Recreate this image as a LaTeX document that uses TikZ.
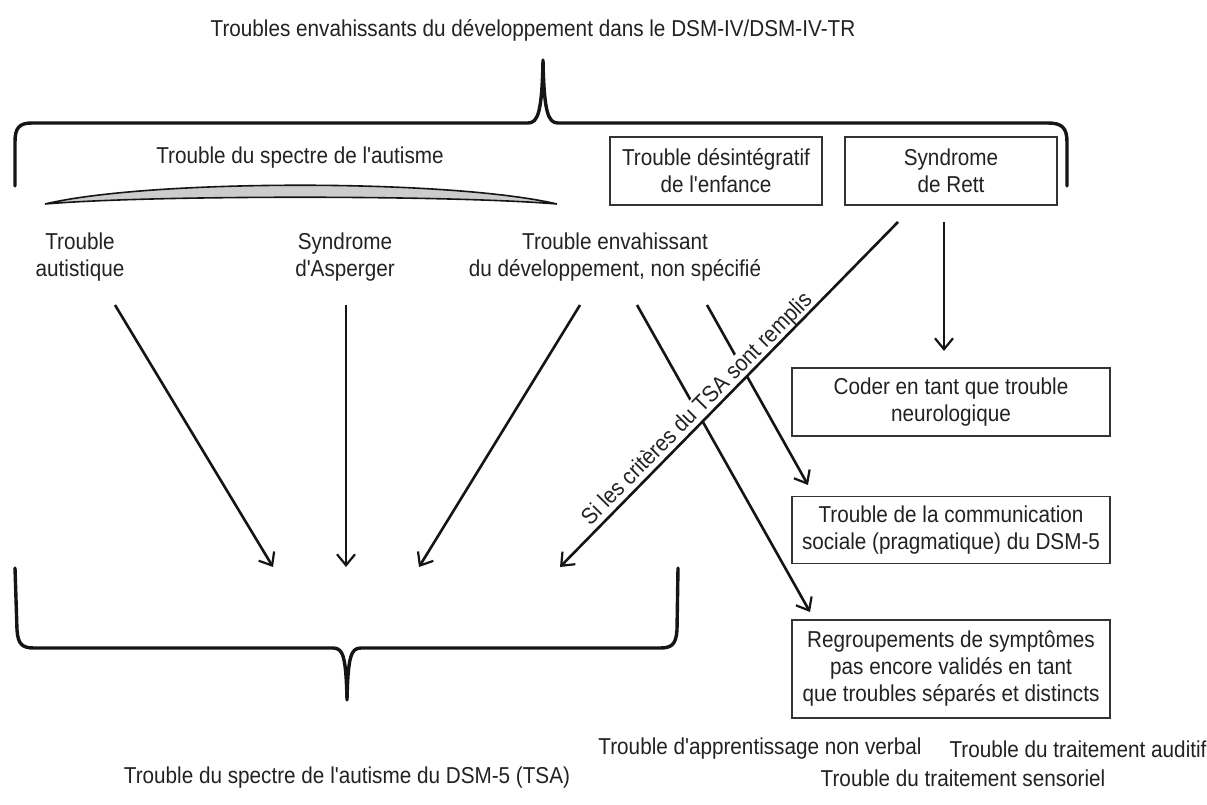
\documentclass[tikz,border=0pt]{standalone}
\usepackage{fontspec}
\setmainfont{Liberation Sans}[FakeStretch=0.9, Ligatures=TeXOff]
\usetikzlibrary{arrows.meta}
\definecolor{ink}{HTML}{151515}
\definecolor{txt}{HTML}{222222}
\definecolor{boxc}{HTML}{333333}
\begin{document}
\begin{tikzpicture}[x=1pt,y=-1pt,
  every node/.style={font=\fontsize{23}{27}\selectfont, text=txt, align=center},
  box/.style={draw=boxc, line width=1.6pt, inner sep=0pt},
  arr/.style={line width=2.6pt, draw=ink, -{Straight Barb[length=11pt,width=18pt,line width=2.2pt]}},
  brace/.style={line width=3.4pt, draw=ink, line cap=round, line join=round}]
\useasboundingbox (0,0) rectangle (1207,805);
\fill[white] (0,0) rectangle (1207,805);

% titles
\node (title) at (533,30) {Troubles envahissants du développement dans le DSM-IV/DSM-IV-TR};
\node (spectre) at (300,158) {Trouble du spectre de l'autisme};

% top brace
\draw[brace] (15,186) -- (15,142) .. controls (15,128) and (19,123) .. (32,123)
  -- (528,123) .. controls (538,123) and (542,112) .. (543,60)
  .. controls (544,112) and (548,123) .. (558,123)
  -- (1048,123) .. controls (1062,123) and (1067,128) .. (1067,142) -- (1067,186);

% lens
\draw[line width=1.6pt, draw=ink, fill=gray!40] (45,204) .. controls (150,179) and (450,179) .. (557,204)
  .. controls (450,195) and (150,195) .. (45,204) -- cycle;

% boxes top
\node[box, minimum width=212pt, minimum height=68pt] (desint) at (716,171) {Trouble désintégratif\\de l'enfance};
\node[box, minimum width=212pt, minimum height=68pt] (rett) at (951,171) {Syndrome\\de Rett};

% labels
\node (autist) at (80,257) {Trouble\\autistique};
\node (asperger) at (345,257) {Syndrome\\d'Asperger};
\node (tedns) at (615,257) {Trouble envahissant\\du développement, non spécifié};

% right boxes
\node[box, minimum width=318pt, minimum height=68pt] (coder) at (951,402) {Coder en tant que trouble\\neurologique};
\node[box, minimum width=318pt, minimum height=67pt] (comm) at (951,530) {Trouble de la communication\\sociale (pragmatique) du DSM-5};
\node[box, minimum width=318pt, minimum height=98pt] (regroup) at (951,669) {Regroupements de symptômes\\pas encore validés en tant\\que troubles séparés et distincts};

% bottom texts
\node (tsa) at (347,778) {Trouble du spectre de l'autisme du DSM-5 (TSA)};
\node (apprent) at (760,749) {Trouble d'apprentissage non verbal};
\node (auditif) at (1078,749) {Trouble du traitement auditif};
\node (sensor) at (963,778) {Trouble du traitement sensoriel};

% bottom brace
\draw[brace] (15,568) -- (17,630) .. controls (18,644) and (22,648) .. (34,648)
  -- (333,648) .. controls (343,648) and (346,656) .. (347,700)
  .. controls (348,656) and (351,648) .. (361,648)
  -- (660,648) .. controls (672,648) and (676,644) .. (677,630) -- (678,568);

% coordinates
\coordinate (s1) at (115,305); \coordinate (e1) at (273,567);
\coordinate (s2) at (346,305); \coordinate (e2) at (346,567);
\coordinate (s3) at (580,305); \coordinate (e3) at (419,567);
\coordinate (s4) at (898,222); \coordinate (e4) at (560,567);
\coordinate (s5) at (944,222); \coordinate (e5) at (944,351);
\coordinate (s6) at (707,305); \coordinate (e6) at (808,485);
\coordinate (s7) at (637,305); \coordinate (e7) at (810,612);

\draw[arr] (s1) -- (e1);
\draw[arr] (s2) -- (e2);
\draw[arr] (s3) -- (e3);
\draw[arr] (s5) -- (e5);
\draw[arr] (s6) -- (e6);
\draw[arr] (s7) -- (e7);

% rotated condition label (white background breaks the crossing arrows)
\node[fill=white, inner sep=1pt, anchor=south, rotate=45.2] (cond) at (706,418) {Si les critères du TSA sont remplis};

\draw[arr] (s4) -- (e4);
\end{tikzpicture}
\end{document}
